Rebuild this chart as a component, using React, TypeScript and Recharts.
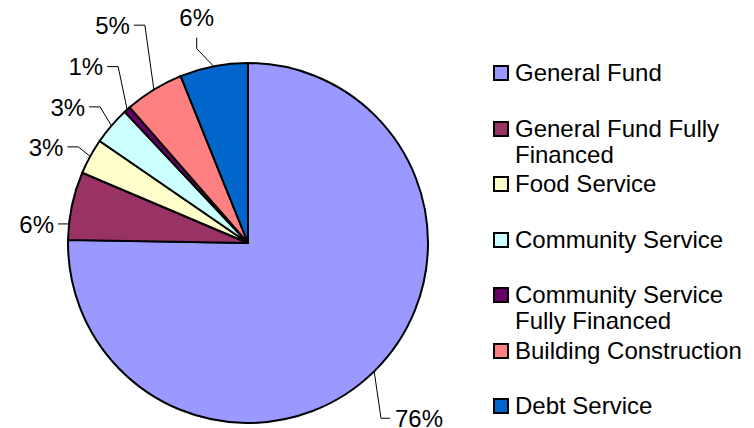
import React from 'react';
import { PieChart, Pie, Cell, Legend } from 'recharts';

const categories = [
  'General Fund',
  'General Fund Fully Financed',
  'Food Service',
  'Community Service',
  'Community Service Fully Financed',
  'Building Construction',
  'Debt Service',
];
const shares = [75.2, 6.1, 3.2, 3.4, 0.6, 5.3, 6.1];
const percentLabels = ['76%', '6%', '3%', '3%', '1%', '5%', '6%'];
const colors = ['#9999FF', '#993366', '#FFFFCC', '#CCFFFF', '#660066', '#FF8080', '#0066CC'];

const data = categories.map((name, i) => ({ name, value: shares[i], label: percentLabels[i] }));

const FONT = '"Liberation Sans", Arial, Helvetica, sans-serif';
const FS = 24;

// leader-line layout for each slice label (Excel-style placement)
const labelLayout = [
  { ext: 40, da: -7.3, side: 'right', fromEdge: true },
  { ext: 0, da: 5.9, side: 'left', fromEdge: false },
  { ext: 15, da: -0.8, side: 'left', fromEdge: true },
  { ext: 21, da: -2, side: 'left', fromEdge: true },
  { ext: 39, da: -5.8, side: 'left', fromEdge: true },
  { ext: 61, da: -6.2, side: 'left', fromEdge: true },
  { ext: 21, da: 3.8, side: 'top', fromEdge: true },
];

const RAD = Math.PI / 180;

const renderLabel = (props: any) => {
  const { cx, cy, midAngle, outerRadius, index } = props;
  const L = labelLayout[index];
  const pt = (r: number, a: number) => [cx + r * Math.cos(-a * RAD), cy + r * Math.sin(-a * RAD)];
  const [ex, ey] = pt(outerRadius + L.ext, midAngle + L.da);
  const [sx, sy] = pt(outerRadius, midAngle);
  const pts: number[][] = [];
  if (L.fromEdge) pts.push([sx, sy]);
  pts.push([ex, ey]);
  let tx = ex;
  let ty = ey;
  let anchor: 'start' | 'end' | 'middle' = 'end';
  if (L.side === 'left') {
    pts.push([ex - 11, ey]);
    tx = ex - 15;
    anchor = 'end';
  } else if (L.side === 'right') {
    pts.push([ex + 9, ey]);
    tx = ex + 14;
    anchor = 'start';
  } else {
    pts.push([ex, ey - 11]);
    ty = ey - 31;
    anchor = 'middle';
  }
  const d = pts.map((p, i) => `${i === 0 ? 'M' : 'L'}${p[0]},${p[1]}`).join(' ');
  return (
    <g key={`lbl-${index}`}>
      <path d={d} stroke="#000" strokeWidth={1} fill="none" />
      <text
        x={tx}
        y={ty + FS * 0.36}
        textAnchor={anchor}
        fontFamily={FONT}
        fontSize={FS}
        fill="#000"
      >
        {percentLabels[index]}
      </text>
    </g>
  );
};

const renderLegend = () => (
  <div style={{ fontFamily: FONT, fontSize: FS, color: '#000', width: 260 }}>
    {categories.map((c, i) => (
      <div key={c} style={{ position: 'relative', height: 55.5 }}>
        <div
          style={{
            position: 'absolute',
            left: 0,
            top: 5,
            width: 16,
            height: 16,
            boxSizing: 'border-box',
            border: '2px solid #000',
            background: colors[i],
          }}
        />
        <div style={{ position: 'absolute', left: 22, top: 0, width: 236, lineHeight: '26px', textAlign: 'left' }}>
          {c}
        </div>
      </div>
    ))}
  </div>
);

export default function App() {
  return (
    <div style={{ width: 754, height: 428, background: '#fff' }}>
      <style>{'body{margin:0;}'}</style>
      <PieChart width={754} height={428} margin={{ top: 0, right: 0, bottom: 0, left: 0 }}>
        <Pie
          data={data}
          dataKey="value"
          nameKey="name"
          cx={248}
          cy={243}
          outerRadius={180}
          startAngle={90}
          endAngle={-270}
          stroke="#000"
          strokeWidth={2}
          label={renderLabel}
          labelLine={false}
          isAnimationActive={false}
        >
          {data.map((d, i) => (
            <Cell key={d.name} fill={colors[i]} stroke="#000" strokeWidth={2} />
          ))}
        </Pie>
        <Legend
          layout="vertical"
          align="right"
          verticalAlign="top"
          content={renderLegend}
          wrapperStyle={{ left: 493, top: 60, width: 260 }}
        />
      </PieChart>
    </div>
  );
}
